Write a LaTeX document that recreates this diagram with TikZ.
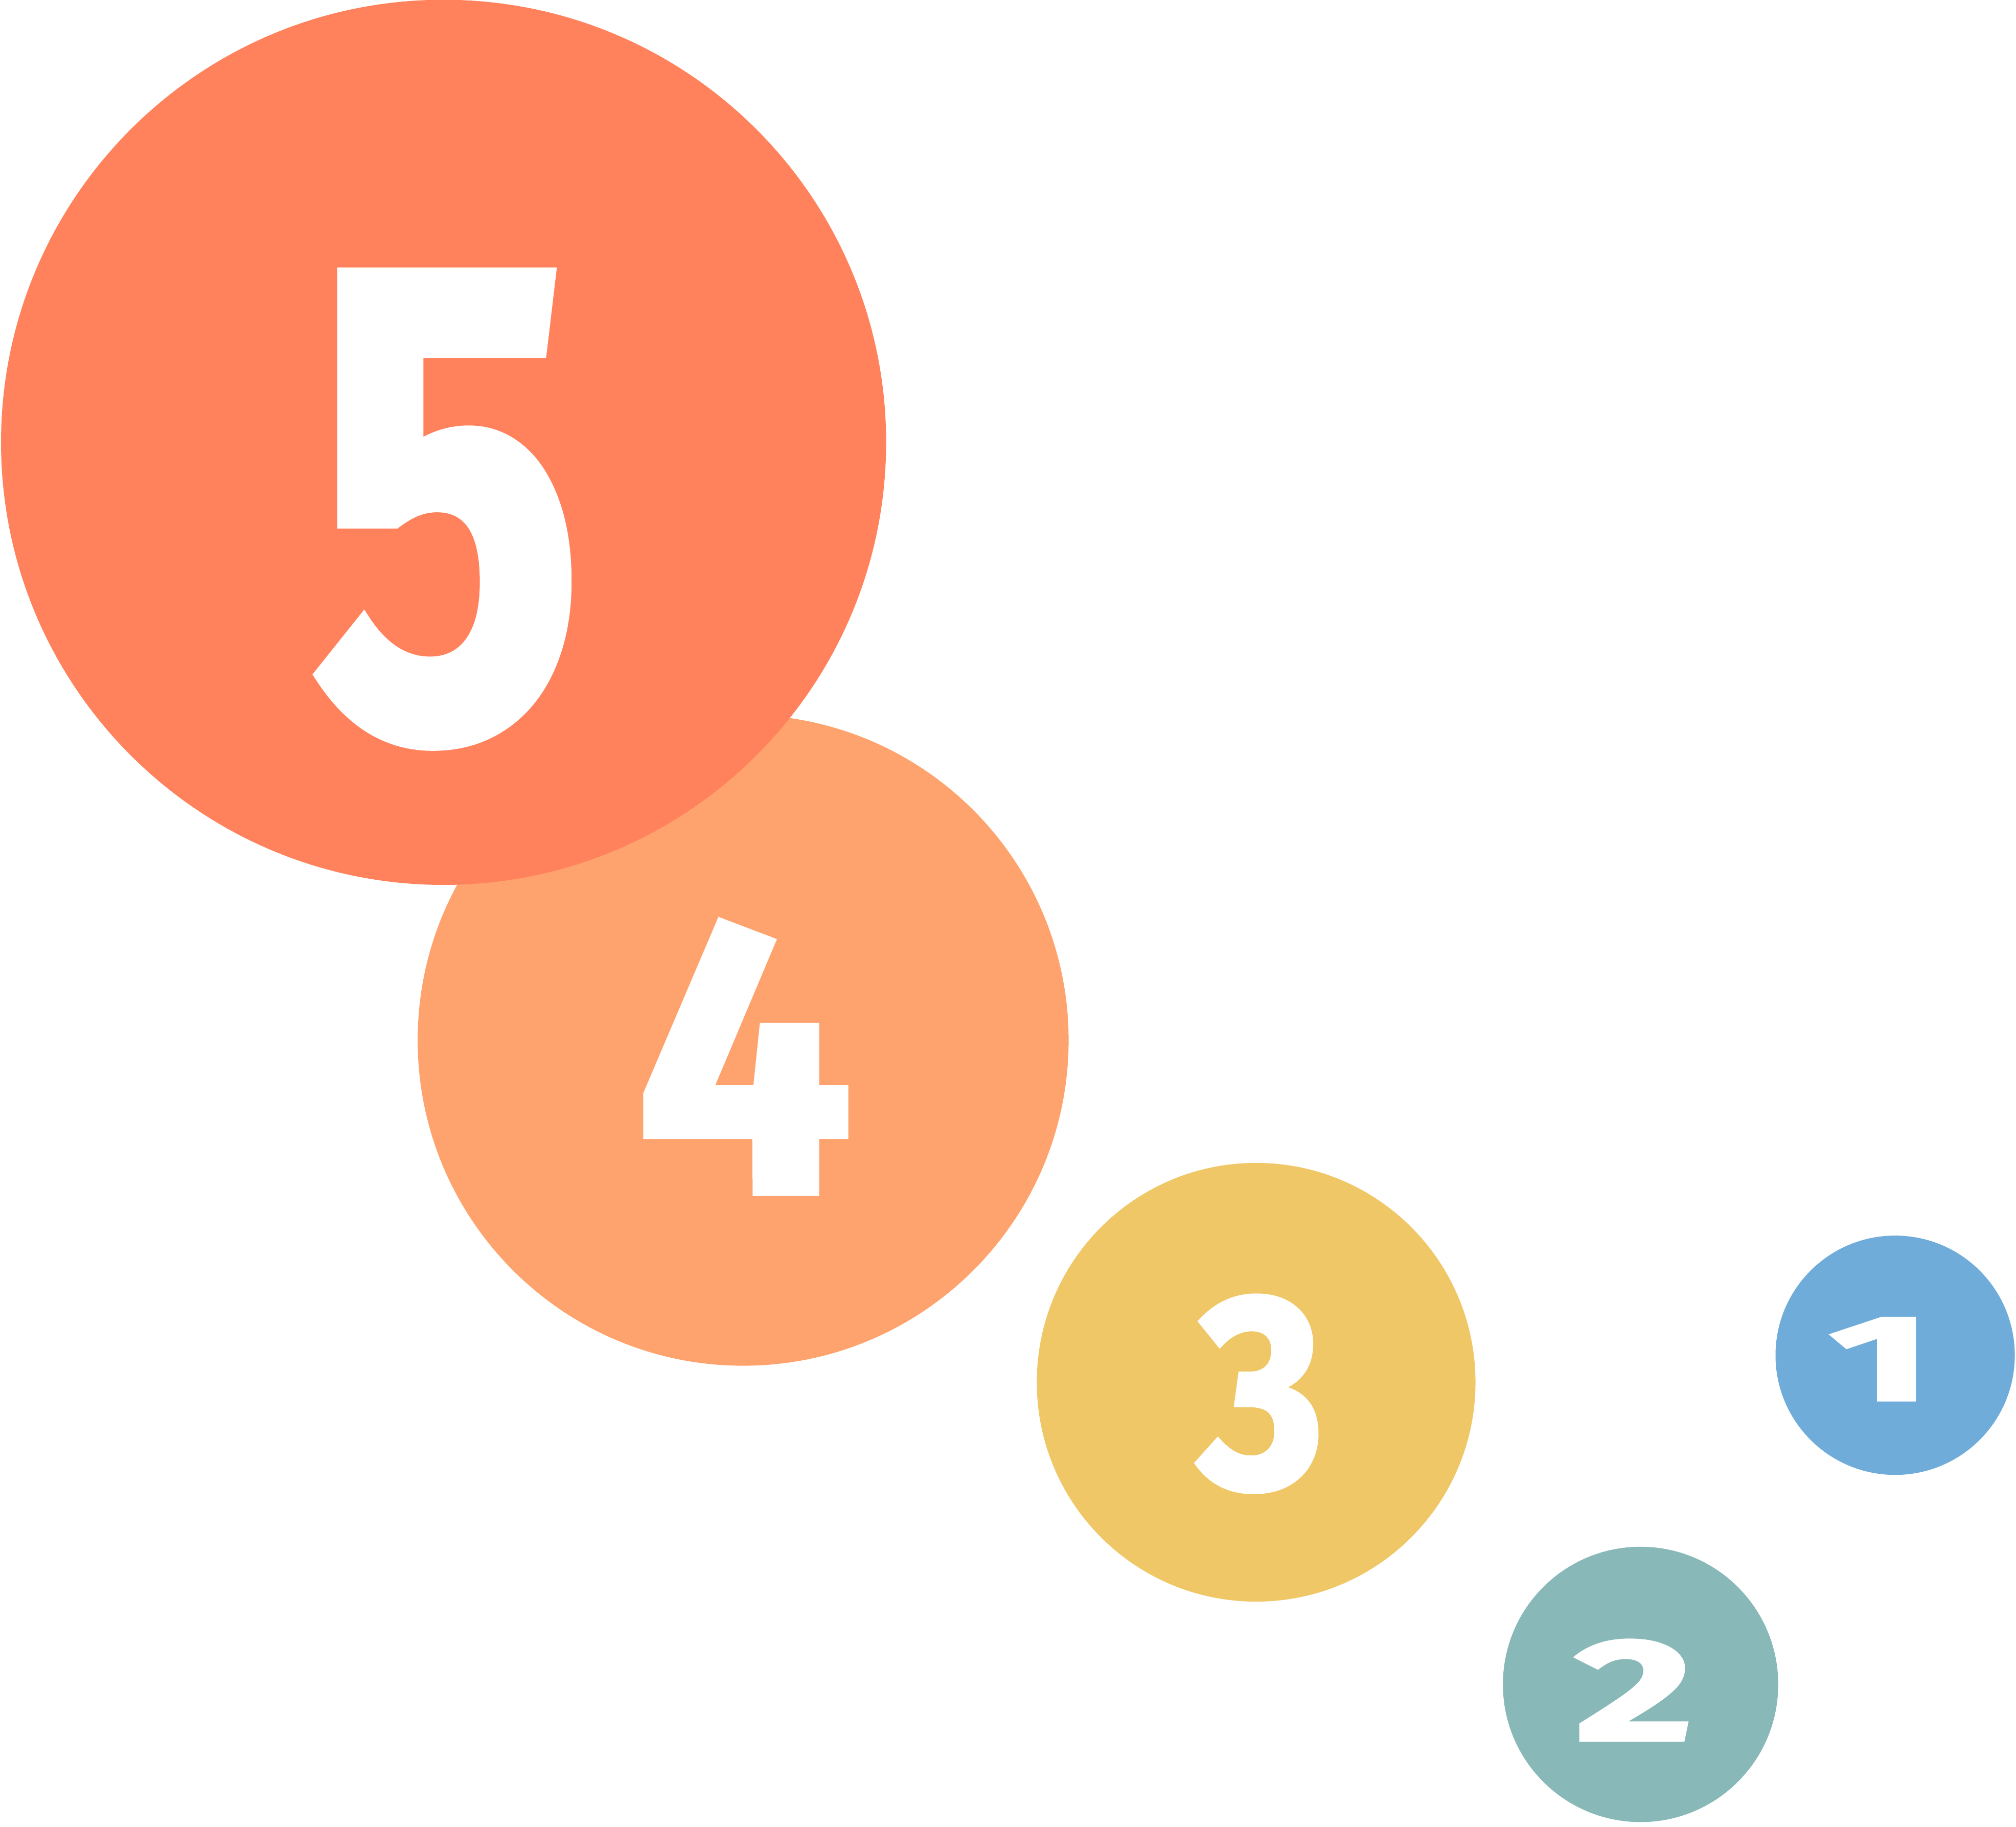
\documentclass[tikz,border=0pt]{standalone}
\usepackage{graphicx}
\usepackage{fontspec}
\setmainfont{Fira Sans}
\newfontfamily\heavydigits{Fira Sans}[UprightFeatures={FakeBold=2}, BoldFeatures={FakeBold=2}]
\definecolor{cfive}{HTML}{FF825C}
\definecolor{cfour}{HTML}{FFA36E}
\definecolor{cthree}{HTML}{EFC766}
\definecolor{cone}{HTML}{6FACDA}
\definecolor{ctwo}{HTML}{88B8B7}
\tikzset{
  disc/.style={circle, inner sep=0pt, minimum size=#1},
  digit/.style={inner sep=0pt, text=white, font=\heavydigits\bfseries}
}
\begin{document}
\begin{tikzpicture}[x=0.01cm, y=-0.01cm]
\useasboundingbox (0,0) rectangle (1568,1420.6);
% circles
\node[disc=5.06cm, fill=cfour] (c4) at (578,809) {};
\node[disc=6.88cm, fill=cfive] (c5) at (345,344) {};
\node[disc=3.41cm, fill=cthree] (c3) at (977,1075) {};
\node[disc=1.86cm, fill=cone] (c1) at (1474,1054) {};
\node[disc=2.14cm, fill=ctwo] (c2) at (1276,1310) {};
% digits
\node[digit] (d5) at (348.5,396) {\resizebox{2.10cm}{3.56cm}{5}};
\node[digit] (d4) at (579,822) {\resizebox{1.68cm}{2.10cm}{4}};
\node[digit] (d3) at (981,1084) {\resizebox{0.98cm}{1.48cm}{3}};
\node[digit] (d1) at (1462.5,1057) {\resizebox{0.80cm}{0.64cm}{1}};
\node[digit] (d2) at (1271,1314.5) {\resizebox{0.92cm}{0.78cm}{2}};
\end{tikzpicture}
\end{document}
